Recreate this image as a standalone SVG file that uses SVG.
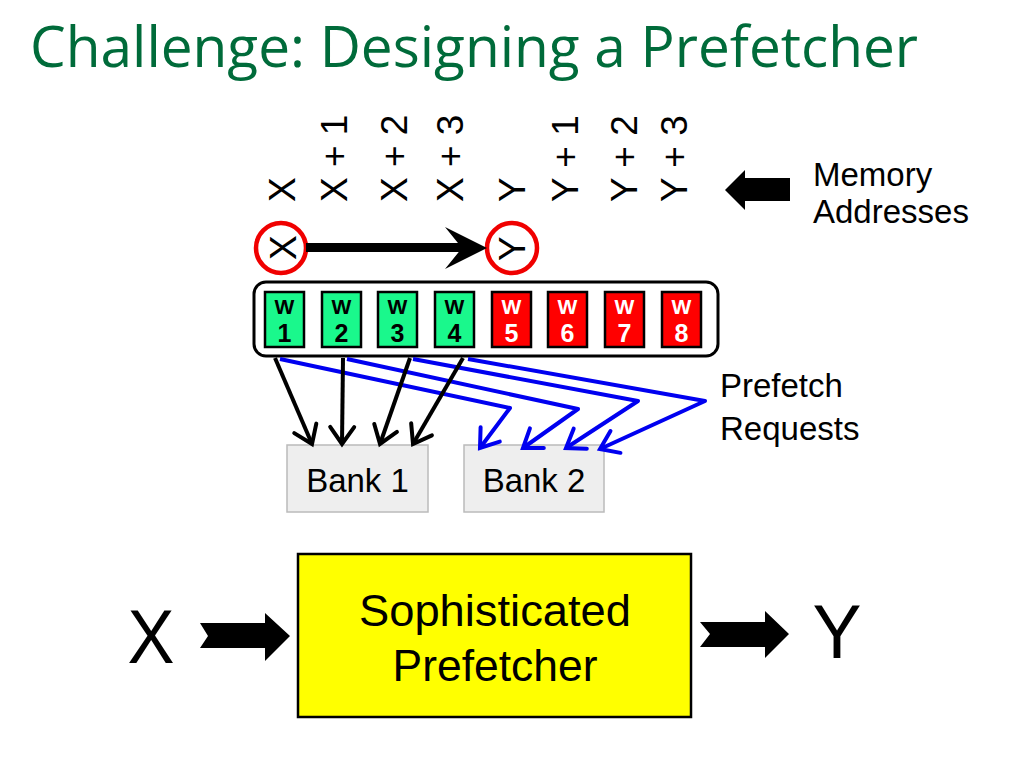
<svg xmlns="http://www.w3.org/2000/svg" width="1024" height="768" viewBox="0 0 1024 768">
<defs>
<style>
.t{font-family:"Liberation Sans",Arial,sans-serif;fill:#000}
.rot{font-family:"Liberation Sans",Arial,sans-serif;font-size:37px;fill:#000}
.w{font-family:"Liberation Sans",Arial,sans-serif;font-weight:bold;text-anchor:middle}
.gw{fill:#1AF88C;stroke:#000;stroke-width:2.5}
.rw{fill:#FF0000;stroke:#000;stroke-width:2.5}
.bank{fill:#EEEEEE;stroke:#BBBBBB;stroke-width:1.5}
.blk{fill:none;stroke:#000;stroke-width:4;marker-end:url(#hb)}
.blu{fill:none;stroke:#0000F0;stroke-width:4;stroke-linejoin:round;marker-end:url(#hu)}
</style>
<marker id="hb" viewBox="-20 -20 40 40" markerWidth="40" markerHeight="40" refX="0" refY="0" orient="auto" markerUnits="userSpaceOnUse" overflow="visible">
<path d="M-17,-12 L0,0 L-17,12" fill="none" stroke="#000" stroke-width="4" stroke-linecap="round" stroke-linejoin="miter"/>
</marker>
<marker id="hu" viewBox="-20 -20 40 40" markerWidth="40" markerHeight="40" refX="0" refY="0" orient="auto" markerUnits="userSpaceOnUse" overflow="visible">
<path d="M-17,-12 L0,0 L-17,12" fill="none" stroke="#0000F0" stroke-width="4" stroke-linecap="round" stroke-linejoin="miter"/>
</marker>
</defs>
<rect width="1024" height="768" fill="#fff"/>
<text x="30" y="67" font-family="'Open Sans','Noto Sans',sans-serif" font-size="56" fill="#006B3A" textLength="888" lengthAdjust="spacingAndGlyphs">Challenge: Designing a Prefetcher</text>

<g id="addresses">
<text class="rot" transform="translate(295,202) rotate(-90)">X</text>
<text class="rot" transform="translate(347,202) rotate(-90)">X + 1</text>
<text class="rot" transform="translate(407,202) rotate(-90)">X + 2</text>
<text class="rot" transform="translate(463,202) rotate(-90)">X + 3</text>
<text class="rot" transform="translate(525,202) rotate(-90)">Y</text>
<text class="rot" transform="translate(578,202) rotate(-90)">Y + 1</text>
<text class="rot" transform="translate(637,202) rotate(-90)">Y + 2</text>
<text class="rot" transform="translate(687,202) rotate(-90)">Y + 3</text>
</g>

<g id="mem-label">
<polygon points="725,190 745,170 745,178 790,178 790,201 745,201 745,210" fill="#000"/>
<text class="t" x="813" y="186" font-size="33">Memory</text>
<text class="t" x="813" y="223" font-size="33">Addresses</text>
</g>

<g id="circleX">
<circle cx="281" cy="248" r="25" fill="#fff" stroke="#F00000" stroke-width="4.5"/>
<text class="rot" transform="translate(296,260) rotate(-90)">X</text>
</g>
<g id="circleY">
<circle cx="512" cy="248" r="25" fill="#fff" stroke="#F00000" stroke-width="4.5"/>
<text class="rot" transform="translate(525,261) rotate(-90)">Y</text>
</g>
<g id="xy-arrow">
<line x1="306" y1="247.5" x2="466" y2="247.5" stroke="#000" stroke-width="9"/>
<polygon points="487,248 445,227 462,248 445,269" fill="#000"/>
</g>

<g id="cache-block">
<rect x="254" y="282" width="464" height="74" rx="12" ry="12" fill="#fff" stroke="#000" stroke-width="3"/>
<g id="w1"><rect class="gw" x="265" y="292" width="39" height="55"/><text class="w" x="284.5" y="314" font-size="21">W</text><text class="w" x="284.5" y="342" font-size="25">1</text></g>
<g id="w2"><rect class="gw" x="322" y="292" width="39" height="55"/><text class="w" x="341.5" y="314" font-size="21">W</text><text class="w" x="341.5" y="342" font-size="25">2</text></g>
<g id="w3"><rect class="gw" x="378" y="292" width="39" height="55"/><text class="w" x="397.5" y="314" font-size="21">W</text><text class="w" x="397.5" y="342" font-size="25">3</text></g>
<g id="w4"><rect class="gw" x="435" y="292" width="39" height="55"/><text class="w" x="454.5" y="314" font-size="21">W</text><text class="w" x="454.5" y="342" font-size="25">4</text></g>
<g id="w5"><rect class="rw" x="492" y="292" width="39" height="55"/><text class="w" x="511.5" y="314" font-size="21" fill="#fff">W</text><text class="w" x="511.5" y="342" font-size="25" fill="#fff">5</text></g>
<g id="w6"><rect class="rw" x="548" y="292" width="39" height="55"/><text class="w" x="567.5" y="314" font-size="21" fill="#fff">W</text><text class="w" x="567.5" y="342" font-size="25" fill="#fff">6</text></g>
<g id="w7"><rect class="rw" x="605" y="292" width="39" height="55"/><text class="w" x="624.5" y="314" font-size="21" fill="#fff">W</text><text class="w" x="624.5" y="342" font-size="25" fill="#fff">7</text></g>
<g id="w8"><rect class="rw" x="662" y="292" width="39" height="55"/><text class="w" x="681.5" y="314" font-size="21" fill="#fff">W</text><text class="w" x="681.5" y="342" font-size="25" fill="#fff">8</text></g>
</g>

<g id="bank1"><rect class="bank" x="287" y="445" width="141" height="67"/><text class="t" x="357.5" y="492" font-size="33" text-anchor="middle">Bank 1</text></g>
<g id="bank2"><rect class="bank" x="464" y="445" width="140" height="67"/><text class="t" x="534" y="492" font-size="33" text-anchor="middle">Bank 2</text></g>

<g id="connectors">
<polyline class="blu" points="280,359 510,408 480,448"/>
<polyline class="blu" points="347,359 578,409 523,448"/>
<polyline class="blu" points="413,359 638,401 566,448"/>
<polyline class="blu" points="468,359 705,401 600,449"/>
<line class="blk" x1="275" y1="358" x2="312" y2="444"/>
<line class="blk" x1="343" y1="358" x2="342" y2="444"/>
<line class="blk" x1="410" y1="358" x2="380" y2="444"/>
<line class="blk" x1="463" y1="358" x2="413" y2="444"/>
</g>

<g id="pf-label">
<text class="t" x="720" y="397" font-size="33">Prefetch</text>
<text class="t" x="720" y="440" font-size="33">Requests</text>
</g>

<g id="in-x"><text class="t" x="151" y="663" font-size="76" text-anchor="middle" textLength="47" lengthAdjust="spacingAndGlyphs">X</text></g>
<g id="arrow-in"><polygon points="200,623 265,623 265,613 290,636 265,661 265,648 200,648 208,636" fill="#000"/></g>
<g id="prefetcher">
<rect x="298" y="554" width="393" height="163" fill="#FFFF00" stroke="#000" stroke-width="2.5"/>
<text class="t" x="495" y="626" font-size="45" text-anchor="middle" textLength="272" lengthAdjust="spacingAndGlyphs">Sophisticated</text>
<text class="t" x="495" y="681" font-size="45" text-anchor="middle" textLength="205" lengthAdjust="spacingAndGlyphs">Prefetcher</text>
</g>
<g id="arrow-out"><polygon points="700,622 765,622 765,611 789,634 765,658 765,647 700,647 710,634" fill="#000"/></g>
<g id="out-y"><text class="t" x="837" y="658" font-size="76" text-anchor="middle" textLength="49" lengthAdjust="spacingAndGlyphs">Y</text></g>
</svg>
